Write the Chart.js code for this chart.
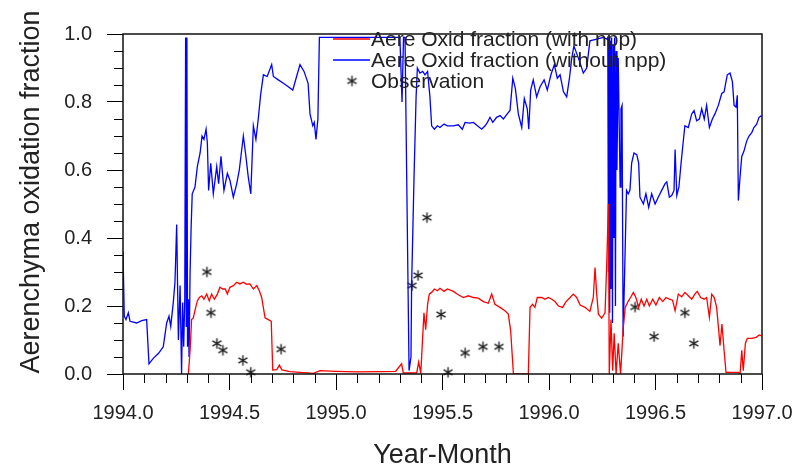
<!DOCTYPE html>
<html>
<head>
<meta charset="utf-8">
<script src="https://cdn.jsdelivr.net/npm/chart.js@4.4.0/dist/chart.umd.min.js"></script>
<style>
  html, body { margin: 0; padding: 0; background: #fff; }
  #wrap { width: 794px; height: 469px; }
</style>
</head>
<body>
<div id="wrap"><canvas id="graph" width="794" height="469"></canvas></div>
<script>
const xTicks = [1994.0, 1994.5, 1995.0, 1995.5, 1996.0, 1996.5, 1997.0];
const yTicks = [0.0, 0.2, 0.4, 0.6, 0.8, 1.0];
const xMinorTicks = [1994.1, 1994.2, 1994.3, 1994.4, 1994.6, 1994.7, 1994.8, 1994.9,
  1995.1, 1995.2, 1995.3, 1995.4, 1995.6, 1995.7, 1995.8, 1995.9,
  1996.1, 1996.2, 1996.3, 1996.4, 1996.6, 1996.7, 1996.8, 1996.9];
const yMinorTicks = [0.05, 0.1, 0.15, 0.25, 0.3, 0.35, 0.45, 0.5, 0.55, 0.65, 0.7, 0.75, 0.85, 0.9, 0.95];
const seriesLabels = ['Aere Oxid fraction (with npp)', 'Aere Oxid fraction (without npp)', 'Observation'];
const xTitle = 'Year-Month';
const yTitle = 'Aerenchyma oxidation fraction';

// [year, fraction]
const withNpp = [
  [1994.307, 0.00], [1994.315, 0.07], [1994.322, 0.16], [1994.330, 0.165], [1994.339, 0.19],
  [1994.349, 0.215], [1994.358, 0.225], [1994.370, 0.23], [1994.380, 0.22], [1994.393, 0.235],
  [1994.405, 0.215], [1994.416, 0.235], [1994.429, 0.22], [1994.443, 0.235], [1994.455, 0.255],
  [1994.468, 0.25], [1994.480, 0.25], [1994.490, 0.235], [1994.502, 0.255], [1994.518, 0.26],
  [1994.534, 0.27], [1994.549, 0.265], [1994.565, 0.27], [1994.580, 0.264], [1994.596, 0.265],
  [1994.612, 0.25], [1994.628, 0.26], [1994.640, 0.245], [1994.651, 0.225], [1994.659, 0.195],
  [1994.667, 0.165], [1994.682, 0.16], [1994.696, 0.155], [1994.703, 0.012], [1994.722, 0.013],
  [1994.734, 0.026], [1994.746, 0.012], [1994.784, 0.007], [1994.847, 0.004], [1994.894, 0.002],
  [1994.925, 0.010], [1995.000, 0.008], [1995.100, 0.006], [1995.200, 0.007], [1995.280, 0.008],
  [1995.308, 0.03], [1995.316, 0.003], [1995.379, 0.003], [1995.388, 0.035], [1995.398, 0.003],
  [1995.407, 0.11], [1995.413, 0.18], [1995.421, 0.13], [1995.430, 0.205], [1995.438, 0.235],
  [1995.449, 0.24], [1995.462, 0.25], [1995.476, 0.245], [1995.488, 0.252], [1995.507, 0.243],
  [1995.523, 0.25], [1995.551, 0.243], [1995.574, 0.233], [1995.598, 0.225], [1995.621, 0.23],
  [1995.645, 0.225], [1995.668, 0.223], [1995.692, 0.213], [1995.715, 0.208], [1995.731, 0.235],
  [1995.746, 0.205], [1995.770, 0.196], [1995.793, 0.186], [1995.809, 0.176], [1995.820, 0.127],
  [1995.833, 0.00], [1995.903, 0.00], [1995.911, 0.196], [1995.923, 0.205], [1995.934, 0.196],
  [1995.945, 0.225], [1995.966, 0.225], [1995.981, 0.22], [1995.997, 0.225], [1996.013, 0.22],
  [1996.028, 0.213], [1996.044, 0.20], [1996.064, 0.196], [1996.080, 0.213], [1996.099, 0.225],
  [1996.114, 0.235], [1996.130, 0.225], [1996.146, 0.203], [1996.169, 0.196], [1996.192, 0.184],
  [1996.208, 0.225], [1996.216, 0.313], [1996.224, 0.235], [1996.232, 0.176], [1996.247, 0.164],
  [1996.263, 0.18], [1996.271, 0.323], [1996.279, 0.50], [1996.283, 0.00], [1996.291, 0.16],
  [1996.299, 0.01], [1996.306, 0.12], [1996.315, 0.00], [1996.325, 0.09], [1996.336, 0.00],
  [1996.349, 0.14], [1996.358, 0.196], [1996.371, 0.213], [1996.383, 0.225], [1996.396, 0.24],
  [1996.408, 0.225], [1996.421, 0.196], [1996.433, 0.22], [1996.446, 0.20], [1996.459, 0.22],
  [1996.471, 0.20], [1996.487, 0.22], [1996.502, 0.203], [1996.518, 0.225], [1996.534, 0.213],
  [1996.549, 0.225], [1996.565, 0.22], [1996.580, 0.217], [1996.592, 0.186], [1996.607, 0.235],
  [1996.623, 0.227], [1996.638, 0.24], [1996.654, 0.23], [1996.670, 0.22], [1996.685, 0.235],
  [1996.696, 0.243], [1996.712, 0.225], [1996.728, 0.22], [1996.740, 0.225], [1996.753, 0.167],
  [1996.764, 0.235], [1996.776, 0.225], [1996.787, 0.196], [1996.797, 0.127], [1996.803, 0.083],
  [1996.812, 0.147], [1996.822, 0.069], [1996.831, 0.005], [1996.889, 0.005], [1996.897, 0.00],
  [1996.905, 0.07], [1996.912, 0.01], [1996.922, 0.09], [1996.931, 0.105], [1996.952, 0.105],
  [1996.972, 0.108], [1996.987, 0.115], [1996.998, 0.112]
];

const withoutNpp = [
  [1994.000, 0.36], [1994.006, 0.17], [1994.014, 0.16], [1994.025, 0.18], [1994.033, 0.155],
  [1994.064, 0.15], [1994.088, 0.157], [1994.111, 0.16], [1994.122, 0.03], [1994.142, 0.046],
  [1994.166, 0.06], [1994.189, 0.08], [1994.205, 0.15], [1994.216, 0.17], [1994.224, 0.14],
  [1994.236, 0.21], [1994.244, 0.27], [1994.252, 0.44], [1994.260, 0.10], [1994.268, 0.26],
  [1994.275, 0.00], [1994.280, 0.21], [1994.285, 0.08], [1994.290, 0.22], [1994.294, 0.99],
  [1994.297, 0.14], [1994.300, 0.99], [1994.303, 0.08], [1994.307, 0.22], [1994.310, 0.05],
  [1994.315, 0.30], [1994.320, 0.435], [1994.325, 0.53], [1994.338, 0.55], [1994.349, 0.61],
  [1994.362, 0.65], [1994.371, 0.70], [1994.380, 0.69], [1994.390, 0.72], [1994.396, 0.68],
  [1994.402, 0.54], [1994.412, 0.62], [1994.424, 0.53], [1994.440, 0.61], [1994.449, 0.56],
  [1994.460, 0.64], [1994.474, 0.54], [1994.490, 0.59], [1994.502, 0.57], [1994.518, 0.52],
  [1994.534, 0.56], [1994.546, 0.60], [1994.565, 0.70], [1994.577, 0.64], [1994.588, 0.58],
  [1994.600, 0.53], [1994.612, 0.73], [1994.624, 0.69], [1994.635, 0.75], [1994.646, 0.82],
  [1994.659, 0.88], [1994.677, 0.875], [1994.698, 0.91], [1994.706, 0.875], [1994.729, 0.865],
  [1994.753, 0.855], [1994.776, 0.845], [1994.797, 0.835], [1994.815, 0.875], [1994.831, 0.91],
  [1994.850, 0.89], [1994.869, 0.855], [1994.878, 0.765], [1994.891, 0.73], [1994.898, 0.74],
  [1994.906, 0.69], [1994.915, 0.75], [1994.922, 0.99], [1995.100, 0.99], [1995.300, 0.99],
  [1995.310, 0.80], [1995.317, 0.99], [1995.324, 0.99], [1995.343, 0.01], [1995.352, 0.05],
  [1995.355, 0.26], [1995.366, 0.57], [1995.376, 0.815], [1995.382, 0.90], [1995.394, 0.885],
  [1995.407, 0.89], [1995.418, 0.88], [1995.430, 0.89], [1995.441, 0.815], [1995.449, 0.73],
  [1995.462, 0.72], [1995.476, 0.73], [1995.488, 0.725], [1995.507, 0.735], [1995.523, 0.73],
  [1995.551, 0.73], [1995.574, 0.733], [1995.593, 0.72], [1995.606, 0.74], [1995.626, 0.738],
  [1995.645, 0.74], [1995.664, 0.73], [1995.684, 0.72], [1995.700, 0.73], [1995.711, 0.74],
  [1995.723, 0.755], [1995.736, 0.74], [1995.754, 0.755], [1995.770, 0.76], [1995.786, 0.75],
  [1995.804, 0.765], [1995.817, 0.775], [1995.830, 0.87], [1995.842, 0.84], [1995.856, 0.765],
  [1995.872, 0.725], [1995.884, 0.81], [1995.898, 0.78], [1995.905, 0.72], [1995.914, 0.835],
  [1995.926, 0.865], [1995.942, 0.815], [1995.958, 0.845], [1995.977, 0.865], [1995.992, 0.835],
  [1996.009, 0.88], [1996.025, 0.91], [1996.039, 0.87], [1996.052, 0.88], [1996.068, 0.83],
  [1996.083, 0.815], [1996.096, 0.87], [1996.107, 0.93], [1996.117, 0.965], [1996.146, 0.915],
  [1996.161, 0.885], [1996.177, 0.90], [1996.192, 0.98], [1996.224, 0.985], [1996.255, 0.99],
  [1996.272, 0.985], [1996.276, 0.99], [1996.279, 0.30], [1996.282, 0.99], [1996.285, 0.18],
  [1996.288, 0.98], [1996.291, 0.25], [1996.294, 0.99], [1996.298, 0.15], [1996.301, 0.97],
  [1996.305, 0.40], [1996.308, 0.99], [1996.312, 0.20], [1996.315, 0.95], [1996.319, 0.60],
  [1996.325, 0.93], [1996.334, 0.55], [1996.338, 0.78], [1996.343, 0.79], [1996.348, 0.11],
  [1996.364, 0.54], [1996.372, 0.53], [1996.380, 0.54], [1996.388, 0.62], [1996.399, 0.65],
  [1996.412, 0.645], [1996.421, 0.62], [1996.427, 0.52], [1996.443, 0.50], [1996.455, 0.53],
  [1996.468, 0.49], [1996.482, 0.53], [1996.498, 0.50], [1996.513, 0.52], [1996.529, 0.54],
  [1996.545, 0.56], [1996.553, 0.565], [1996.565, 0.52], [1996.576, 0.525], [1996.587, 0.54],
  [1996.592, 0.66], [1996.600, 0.525], [1996.610, 0.55], [1996.620, 0.62], [1996.628, 0.67],
  [1996.638, 0.73], [1996.654, 0.725], [1996.670, 0.765], [1996.681, 0.775], [1996.693, 0.745],
  [1996.706, 0.75], [1996.717, 0.78], [1996.729, 0.75], [1996.740, 0.79], [1996.753, 0.725],
  [1996.767, 0.75], [1996.779, 0.765], [1996.795, 0.79], [1996.811, 0.825], [1996.822, 0.83],
  [1996.837, 0.88], [1996.850, 0.885], [1996.861, 0.86], [1996.869, 0.79], [1996.878, 0.785],
  [1996.884, 0.82], [1996.889, 0.51], [1996.897, 0.58], [1996.905, 0.64], [1996.915, 0.655],
  [1996.928, 0.685], [1996.939, 0.70], [1996.952, 0.71], [1996.962, 0.725], [1996.975, 0.735],
  [1996.986, 0.755], [1996.998, 0.76]
];

const observation = [
  [1994.394, 0.30], [1994.413, 0.18], [1994.441, 0.09], [1994.469, 0.07], [1994.563, 0.04],
  [1994.600, 0.005], [1994.742, 0.073], [1995.357, 0.26], [1995.385, 0.29], [1995.427, 0.46],
  [1995.493, 0.175], [1995.526, 0.005], [1995.606, 0.062], [1995.690, 0.08], [1995.765, 0.08],
  [1996.404, 0.197], [1996.493, 0.11], [1996.638, 0.18], [1996.680, 0.09]
];

const FONT = '"Liberation Sans", Arial, Helvetica, sans-serif';
const TEXT = '#222';

function toPoints(rows) {
  return rows.map(r => ({ x: r[0], y: r[1] }));
}

// asterisk marker, drawn once and reused as point image
function makeAsterisk() {
  const c = document.createElement('canvas');
  c.width = 13; c.height = 13;
  const g = c.getContext('2d');
  g.strokeStyle = '#222';
  g.lineWidth = 1.4;
  const r = 5.2;
  [90, 30, 150].forEach(a => {
    const t = a * Math.PI / 180;
    g.beginPath();
    g.moveTo(6.5 - r * Math.cos(t), 6.5 - r * Math.sin(t));
    g.lineTo(6.5 + r * Math.cos(t), 6.5 + r * Math.sin(t));
    g.stroke();
  });
  return c;
}
const star = makeAsterisk();

const decorations = {
  id: 'decorations',
  afterDraw(chart) {
    const { ctx, chartArea: a, scales: { x, y } } = chart;
    ctx.save();

    ctx.strokeStyle = '#000';
    ctx.lineWidth = 1;
    ctx.beginPath();
    xMinorTicks.forEach(v => {
      const px = Math.round(x.getPixelForValue(v)) + 0.5;
      ctx.moveTo(px, a.bottom);
      ctx.lineTo(px, a.bottom + 9);
    });
    yMinorTicks.forEach(v => {
      const py = Math.round(y.getPixelForValue(v)) + 0.5;
      ctx.moveTo(a.left, py);
      ctx.lineTo(a.left - 9, py);
    });
    ctx.stroke();

    ctx.lineWidth = 1.5;
    ctx.strokeStyle = '#111';
    ctx.strokeRect(a.left, a.top, a.right - a.left, a.bottom - a.top);

    // y axis title
    ctx.fillStyle = TEXT;
    ctx.font = '27px ' + FONT;
    ctx.textAlign = 'center';
    ctx.textBaseline = 'middle';
    ctx.translate(32, 192);
    ctx.rotate(-Math.PI / 2);
    ctx.fillText(yTitle, 0, 0);
    ctx.setTransform(1, 0, 0, 1, 0, 0);

    // legend
    const lx = 333, tx = 371, rows = [39, 60, 81];
    ctx.lineWidth = 1.5;
    ctx.strokeStyle = '#ff0000';
    ctx.beginPath(); ctx.moveTo(lx, rows[0]); ctx.lineTo(tx - 1, rows[0]); ctx.stroke();
    ctx.strokeStyle = '#0000ff';
    ctx.beginPath(); ctx.moveTo(lx, rows[1]); ctx.lineTo(tx - 1, rows[1]); ctx.stroke();
    ctx.drawImage(star, 352 - 6.5, rows[2] - 6.5);
    ctx.font = '21px ' + FONT;
    ctx.textAlign = 'left';
    ctx.textBaseline = 'middle';
    ctx.fillStyle = TEXT;
    seriesLabels.forEach((s, i) => ctx.fillText(s, tx, rows[i] + 1));

    ctx.restore();
  }
};

const ctx = document.getElementById('graph').getContext('2d');
new Chart(ctx, {
  type: 'line',
  data: {
    datasets: [
      {
        label: seriesLabels[0],
        data: toPoints(withNpp),
        borderColor: '#ff0000',
        borderWidth: 1.3,
        pointRadius: 0,
        tension: 0
      },
      {
        label: seriesLabels[1],
        data: toPoints(withoutNpp),
        borderColor: '#0000ff',
        borderWidth: 1.3,
        pointRadius: 0,
        tension: 0
      },
      {
        label: seriesLabels[2],
        data: toPoints(observation),
        showLine: false,
        pointStyle: star,
        pointRadius: 5,
        clip: false
      }
    ]
  },
  options: {
    responsive: false,
    animation: false,
    devicePixelRatio: 1,
    layout: { padding: { left: 0, right: 32, top: 34, bottom: 0 } },
    plugins: {
      legend: { display: false },
      tooltip: { enabled: false }
    },
    scales: {
      x: {
        type: 'linear',
        min: 1994,
        max: 1997,
        afterBuildTicks: s => { s.ticks = xTicks.map(v => ({ value: v })); },
        afterFit: s => { s.height = 95; s.paddingLeft = 0; s.paddingRight = 0; },
        ticks: {
          callback: v => v.toFixed(1),
          font: { family: FONT, size: 20 },
          color: TEXT,
          padding: 11,
          maxRotation: 0,
          autoSkip: false
        },
        grid: { drawOnChartArea: false, drawTicks: true, tickLength: 16, tickColor: '#000', tickWidth: 1 },
        border: { display: false },
        title: {
          display: true,
          text: xTitle,
          font: { family: FONT, size: 27, lineHeight: 1 },
          color: TEXT,
          padding: 0
        }
      },
      y: {
        min: 0,
        max: 1,
        afterBuildTicks: s => { s.ticks = yTicks.map(v => ({ value: v })); },
        afterFit: s => { s.width = 123; },
        ticks: {
          callback: v => v.toFixed(1),
          font: { family: FONT, size: 20 },
          color: TEXT,
          padding: 15
        },
        grid: { drawOnChartArea: false, drawTicks: true, tickLength: 16, tickColor: '#000', tickWidth: 1 },
        border: { display: false }
      }
    }
  },
  plugins: [decorations]
});
</script>
</body>
</html>
